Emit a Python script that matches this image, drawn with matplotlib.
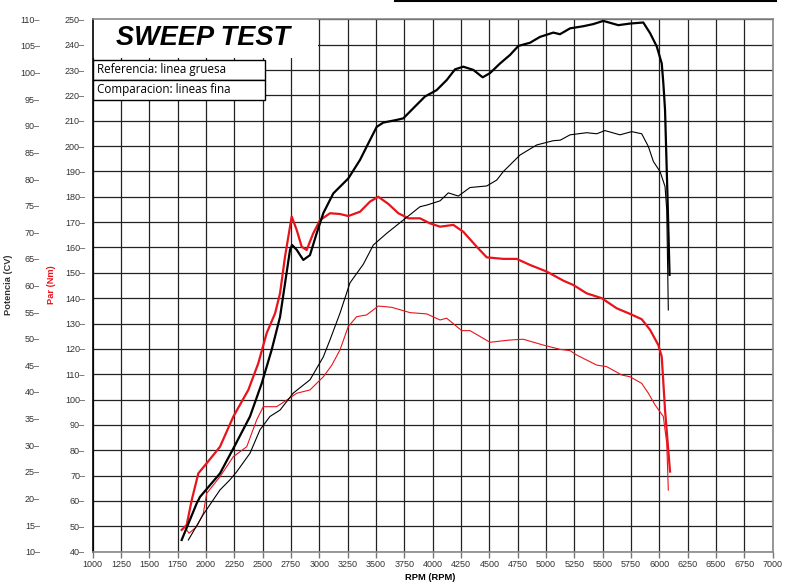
import matplotlib
matplotlib.use("Agg")
import matplotlib.pyplot as plt
from matplotlib.patches import Rectangle
from matplotlib.lines import Line2D

# potencia referencia (linea gruesa), CV
ref_pow_rpm = [1785, 1918, 1947, 2123, 2256, 2388, 2491, 2579, 2653, 2697, 2741, 2759,
               2800, 2858, 2917, 2976, 3035, 3123, 3255, 3359, 3432, 3506, 3564, 3682,
               3741, 3829, 3932, 4035, 4124, 4197, 4270, 4358, 4441, 4506, 4594, 4682,
               4756, 4859, 4947, 5064, 5123, 5212, 5329, 5417, 5505, 5638, 5741, 5858,
               5918, 5977, 6021, 6035, 6050, 6070, 6090]
ref_pow = [12.2, 19.1, 20.3, 24.7, 30.0, 35.4, 41.6, 47.9, 54.1, 60.4, 66.7, 67.6,
           66.7, 64.8, 65.7, 69.8, 73.6, 77.3, 80.1, 83.6, 86.7, 89.8, 90.6, 91.1,
           91.4, 93.3, 95.5, 96.7, 98.6, 100.6, 101.1, 100.5, 99.1, 99.9, 101.7, 103.3,
           105.0, 105.6, 106.7, 107.5, 107.2, 108.3, 108.7, 109.1, 109.7, 108.9, 109.2, 109.4,
           107.4, 104.9, 101.7, 98.0, 93.0, 78.0, 62.0]

# potencia comparacion (linea fina), CV
cmp_pow_rpm = [1844, 1976, 2123, 2211, 2270, 2388, 2476, 2564, 2653, 2770, 2918, 3035,
               3094, 3182, 3270, 3388, 3476, 3594, 3741, 3888, 3947, 4065, 4138,
               4226, 4329, 4477, 4565, 4623, 4770, 4918, 5064, 5126, 5212, 5359, 5447,
               5520, 5652, 5756, 5844, 5903, 5947, 6006, 6050, 6065, 6079]
cmp_pow = [12.2, 17.0, 21.6, 23.5, 25.0, 28.5, 32.9, 35.4, 36.6, 39.8, 42.3, 46.6,
           49.8, 54.8, 60.5, 64.0, 67.6, 69.8, 72.3, 74.8, 75.1, 75.9, 77.4,
           76.8, 78.4, 78.7, 79.8, 81.4, 84.5, 86.4, 87.2, 87.3, 88.3, 88.7, 88.5,
           89.1, 88.3, 88.9, 88.5, 86.1, 83.3, 81.4, 78.6, 74.2, 55.4]

# par referencia (linea gruesa), Nm
ref_tq_rpm = [1785, 1829, 1874, 1932, 2006, 2123, 2241, 2373, 2461, 2535, 2609, 2653,
              2697, 2756, 2800, 2844, 2888, 2946, 3006, 3094, 3182, 3255, 3359, 3447,
              3520, 3608, 3697, 3785, 3888, 3976, 4065, 4182, 4270, 4388, 4477, 4623,
              4741, 4859, 5006, 5153, 5241, 5359, 5491, 5624, 5741, 5844, 5918, 5991,
              6021, 6050, 6094]
ref_tq = [48.6, 50.5, 60.4, 70.9, 74.9, 81.4, 93.3, 103.8, 114.3, 126.2, 134.0, 141.9,
          156.4, 172.2, 166.9, 160.3, 159.0, 165.6, 170.8, 173.5, 173.2, 172.4, 174.1, 178.1,
          180.0, 177.2, 173.5, 171.5, 171.5, 169.5, 168.2, 168.9, 166.2, 160.3, 156.1, 155.5,
          155.5, 153.1, 150.5, 146.9, 145.2, 141.9, 140.0, 136.0, 133.8, 131.7, 127.5, 121.5,
          116.9, 95.9, 71.6]

# par comparacion (linea fina), Nm
cmp_tq_rpm = [1829, 1850, 1918, 1976, 2006, 2123, 2241, 2359, 2447, 2505, 2623, 2712,
              2800, 2917, 3035, 3110, 3182, 3255, 3329, 3417, 3520, 3638, 3800, 3947,
              4065, 4123, 4256, 4329, 4506, 4682, 4800, 4976, 5126, 5212, 5270, 5447,
              5535, 5668, 5741, 5844, 5903, 5962, 6035, 6065, 6079]
cmp_tq = [48.6, 47.3, 49.9, 55.1, 63.0, 69.6, 77.5, 81.4, 92.0, 97.2, 97.2, 99.8,
          102.5, 103.8, 109.0, 113.6, 119.6, 128.8, 132.7, 133.4, 136.9, 136.4, 134.3, 133.8,
          131.4, 132.1, 127.2, 127.2, 122.6, 123.5, 123.8, 121.5, 119.8, 119.3, 117.6, 113.6,
          113.0, 109.7, 109.0, 106.4, 102.5, 97.9, 93.3, 82.8, 64.3]

rpm_ticks = list(range(1000, 7001, 250))
tq_ticks = list(range(40, 251, 10))
pow_ticks = list(range(10, 111, 5))

RED = '#e8141b'
TXT = '#333333'
plt.rcParams['font.family'] = ['Liberation Sans', 'DejaVu Sans']

fig = plt.figure(figsize=(7.85, 5.88), dpi=100)
ax = fig.add_axes([92.7 / 785, 1 - 551.7 / 588, 680 / 785, 532.4 / 588])
ax.set_xlim(1000, 7000)
ax.set_ylim(40, 250)

ax.set_xticks(rpm_ticks)
ax.set_xticklabels([str(v) for v in rpm_ticks])
ax.set_yticks(tq_ticks)
ax.set_yticklabels([f"{v}\u2013" for v in tq_ticks])
ax.tick_params(axis='x', length=4, width=1, color='#777777', labelsize=6.5,
               labelcolor=TXT, pad=2)
ax.tick_params(axis='y', length=0, labelsize=6.5, labelcolor=TXT, pad=5.5)
ax.grid(True, color='#222222', linewidth=0.9, zorder=0)
ax.set_axisbelow(True)
for side in ['top', 'right', 'bottom']:
    ax.spines[side].set_color('#888888')
    ax.spines[side].set_linewidth(1.2)
ax.spines['left'].set_color('black')
ax.spines['left'].set_linewidth(1.2)

# torque curves
ax.plot(cmp_tq_rpm, cmp_tq, color=RED, lw=0.8, zorder=3)
ax.plot(ref_tq_rpm, ref_tq, color=RED, lw=1.6, zorder=4)

# power on its own scale, labels on the far left
axp = ax.twinx()
axp.set_ylim(10, 110)
axp.set_yticks(pow_ticks)
axp.set_yticklabels([f"{v}\u2013" for v in pow_ticks])
axp.yaxis.tick_left()
axp.spines['left'].set_position(('outward', 31))
for side in ['top', 'right', 'bottom', 'left']:
    axp.spines[side].set_visible(False)
axp.tick_params(axis='y', length=0, labelsize=6.5, labelcolor=TXT, pad=7)
axp.plot(cmp_pow_rpm, cmp_pow, color='black', lw=0.8, zorder=3)
axp.plot(ref_pow_rpm, ref_pow, color='black', lw=1.6, zorder=4)

# title panel and legend boxes
ax.add_patch(Rectangle((0, (551.7 - 58) / 532.4), (318 - 92.7) / 680, 1,
                       transform=ax.transAxes, facecolor='white', edgecolor='none',
                       zorder=2, clip_on=True))
ax.text((203 - 92.7) / 680, (551.7 - 38) / 532.4, 'SWEEP TEST', transform=ax.transAxes,
        ha='center', va='center', fontsize=19.5, fontweight='bold', fontstyle='italic',
        color='black', zorder=5)
box_w = (265 - 92.7) / 680
box_h = 20 / 532.4
legend_txt = ['Referencia: linea gruesa', 'Comparacion: lineas fina']
for i, txt in enumerate(legend_txt):
    y0 = (551.7 - 80 - 20 * i) / 532.4
    ax.add_patch(Rectangle((0, y0), box_w, box_h, transform=ax.transAxes,
                           facecolor='white', edgecolor='black', linewidth=1, zorder=5))
    ax.text(4 / 680, y0 + box_h / 2, txt, transform=ax.transAxes, ha='left',
            va='center', fontsize=8.4, family='Open Sans', color='black', zorder=6)

# axis titles
fig.text(9 / 785, 1 - 285 / 588, 'Potencia (CV)', rotation=90, ha='center', va='center',
         fontsize=6.7, fontweight='bold', color=TXT)
fig.text(52 / 785, 1 - 285 / 588, 'Par (Nm)', rotation=90, ha='center', va='center',
         fontsize=6.7, fontweight='bold', color=RED)
fig.text(430 / 785, 1 - 578 / 588, 'RPM (RPM)', ha='center', va='center',
         fontsize=6.7, fontweight='bold', color='black')

fig.add_artist(Line2D([395 / 785, 776 / 785], [1 - 1 / 588, 1 - 1 / 588],
                      color='black', lw=1.5))

fig.savefig('out.png', dpi=100)
